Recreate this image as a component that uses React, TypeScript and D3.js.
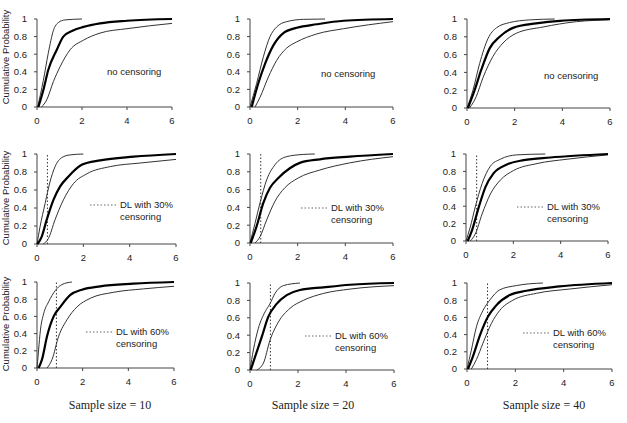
import React from 'react';
import * as d3 from 'd3';

type Pt = [number, number];

// x ticks and y ticks shared by every panel
const xTicks = [0, 2, 4, 6];
const yTicks = [0, 0.2, 0.4, 0.6, 0.8, 1];
const yTickLabels = ['0', '0.2', '0.4', '0.6', '0.8', '1'];

const sampleSizes = ['Sample size = 10', 'Sample size = 20', 'Sample size = 40'];
const censorLabels = ['no censoring', 'DL with 30%', 'DL with 60%'];
const detectionLimits = [null, 0.45, 0.85];

// n = 10
const n10None: Pt[][] = [
  [[0.03, 0], [0.28, 0.3], [0.5, 0.61], [0.73, 0.87], [0.95, 0.96], [1.25, 0.99], [2.0, 1.0]],
  [[0.06, 0], [0.28, 0.19], [0.5, 0.42], [0.88, 0.65], [1.17, 0.8], [1.6, 0.87], [2.07, 0.91], [2.8, 0.95], [4.0, 0.98], [6, 1.0]],
  [[0.2, 0], [0.43, 0.08], [0.73, 0.29], [1.03, 0.46], [1.47, 0.65], [2.07, 0.76], [2.8, 0.84], [4.0, 0.89], [6, 0.95]],
];
const n10Dl30: Pt[][] = [
  [[0, 0], [0.13, 0.19], [0.35, 0.45], [0.56, 0.69], [0.78, 0.86], [1.07, 0.96], [1.43, 0.99], [2.0, 1.0]],
  [[0.02, 0], [0.2, 0.08], [0.42, 0.27], [0.71, 0.49], [1.0, 0.64], [1.36, 0.75], [1.93, 0.88], [2.73, 0.93], [4.17, 0.97], [6, 1.0]],
  [[0.27, 0], [0.49, 0.06], [0.78, 0.27], [1.14, 0.49], [1.57, 0.67], [2.15, 0.78], [3.16, 0.86], [4.46, 0.9], [6, 0.94]],
];
const n10Dl60: Pt[][] = [
  [[0, 0], [0.07, 0.21], [0.15, 0.44], [0.29, 0.63], [0.51, 0.77], [0.8, 0.9], [1.09, 0.97], [1.53, 1.0]],
  [[0.07, 0], [0.22, 0.1], [0.44, 0.37], [0.73, 0.6], [1.02, 0.71], [1.46, 0.85], [1.97, 0.91], [2.77, 0.95], [4.22, 0.98], [6, 1.0]],
  [[0.44, 0], [0.66, 0.1], [0.95, 0.37], [1.31, 0.56], [1.75, 0.71], [2.33, 0.81], [3.35, 0.88], [4.66, 0.92], [6, 0.95]],
];

// n = 20
const n20None: Pt[][] = [
  [[0, 0], [0.28, 0.27], [0.56, 0.57], [0.84, 0.8], [1.12, 0.91], [1.54, 0.97], [2.24, 0.996], [3.15, 1.0]],
  [[0.07, 0], [0.35, 0.27], [0.63, 0.49], [0.98, 0.7], [1.4, 0.84], [1.96, 0.9], [2.8, 0.94], [3.93, 0.98], [6, 1.0]],
  [[0.21, 0], [0.42, 0.11], [0.77, 0.34], [1.12, 0.53], [1.54, 0.67], [1.96, 0.74], [2.8, 0.83], [3.93, 0.89], [6, 0.97]],
];
const n20Dl30: Pt[][] = [
  [[0, 0], [0.21, 0.22], [0.42, 0.45], [0.7, 0.71], [1.05, 0.88], [1.53, 0.97], [2.23, 0.995], [2.72, 1.0]],
  [[0.03, 0], [0.28, 0.19], [0.56, 0.45], [0.84, 0.62], [1.19, 0.73], [1.67, 0.84], [2.09, 0.9], [2.93, 0.94], [4.18, 0.97], [6, 1.0]],
  [[0.21, 0], [0.42, 0.07], [0.7, 0.26], [1.05, 0.47], [1.46, 0.62], [2.02, 0.73], [2.93, 0.82], [4.18, 0.9], [6, 0.97]],
];
const n20Dl60: Pt[][] = [
  [[0, 0], [0.14, 0.23], [0.35, 0.48], [0.63, 0.67], [0.83, 0.76], [1.04, 0.88], [1.39, 0.97], [2.08, 1.0]],
  [[0.03, 0], [0.21, 0.15], [0.49, 0.38], [0.76, 0.61], [1.11, 0.76], [1.53, 0.86], [2.08, 0.92], [3.06, 0.95], [4.17, 0.98], [6, 1.0]],
  [[0.28, 0], [0.56, 0.08], [0.83, 0.34], [1.18, 0.55], [1.67, 0.71], [2.22, 0.8], [3.06, 0.88], [4.17, 0.93], [6, 0.97]],
];

// n = 40
const n40None: Pt[][] = [
  [[0, 0], [0.25, 0.2], [0.53, 0.5], [0.88, 0.78], [1.23, 0.9], [1.79, 0.96], [2.63, 0.99], [3.68, 1.0]],
  [[0.04, 0], [0.32, 0.2], [0.6, 0.43], [0.95, 0.67], [1.37, 0.8], [1.93, 0.9], [2.9, 0.95], [3.9, 0.98], [6, 1.0]],
  [[0.11, 0], [0.39, 0.13], [0.67, 0.34], [1.09, 0.58], [1.51, 0.73], [2.07, 0.84], [3.19, 0.91], [4.59, 0.97], [6, 0.99]],
];
const n40Dl30: Pt[][] = [
  [[0, 0], [0.18, 0.16], [0.39, 0.39], [0.68, 0.66], [1.03, 0.86], [1.45, 0.94], [2.15, 0.99], [3.35, 1.0]],
  [[0.07, 0], [0.25, 0.12], [0.54, 0.39], [0.82, 0.62], [1.17, 0.78], [1.73, 0.88], [2.44, 0.93], [3.56, 0.96], [6, 1.0]],
  [[0.18, 0], [0.39, 0.08], [0.68, 0.31], [1.03, 0.54], [1.45, 0.7], [2.01, 0.81], [3.0, 0.89], [4.27, 0.94], [6, 0.99]],
];
const n40Dl60: Pt[][] = [
  [[0, 0], [0.18, 0.22], [0.39, 0.49], [0.66, 0.68], [0.94, 0.8], [1.35, 0.92], [2.04, 0.97], [3.14, 1.0]],
  [[0.04, 0], [0.25, 0.15], [0.52, 0.38], [0.87, 0.61], [1.21, 0.74], [1.77, 0.86], [2.46, 0.91], [3.83, 0.96], [6, 1.0]],
  [[0.18, 0], [0.39, 0.11], [0.66, 0.3], [1.01, 0.53], [1.35, 0.68], [1.9, 0.8], [2.87, 0.88], [4.25, 0.93], [6, 0.98]],
];

// rows = censoring level, columns = sample size
const panelData: Pt[][][][] = [
  [n10None, n20None, n40None],
  [n10Dl30, n20Dl30, n40Dl30],
  [n10Dl60, n20Dl60, n40Dl60],
];

// plot frames [left, right, top, bottom] per row/col
const frames = [
  [[37, 172, 19, 107], [250, 393, 19, 107], [467, 610, 19, 108]],
  [[37, 176, 154, 244], [250, 393, 154, 243], [466, 608, 154, 241]],
  [[37, 174, 282, 368], [250, 394, 283, 370], [467, 612, 283, 369]],
];

// legend anchor (start of dotted sample / text) per row/col
const legendPos = [
  [[107, 75], [321, 77], [544, 79]],
  [[90, 208], [301, 211], [517, 210]],
  [[86, 335], [305, 339], [523, 336]],
];

const font = 'Liberation Sans, Arial, sans-serif';
const textColor = '#222';

const Panel: React.FC<{ row: number; col: number }> = ({ row, col }) => {
  const [l, r, t, b] = frames[row][col];
  const x = d3.scaleLinear().domain([0, 6]).range([l, r]);
  const y = d3.scaleLinear().domain([0, 1]).range([b, t]);
  const line = d3
    .line<Pt>()
    .x(d => x(d[0]))
    .y(d => y(d[1]))
    .curve(d3.curveMonotoneX);
  const curves = panelData[row][col];
  const dl = detectionLimits[row];
  const [lx, ly] = legendPos[row][col];

  return (
    <g>
      {/* axes */}
      <line x1={l} x2={r} y1={b} y2={b} stroke="#444" strokeWidth={1} />
      <line x1={l} x2={l} y1={t} y2={b} stroke="#444" strokeWidth={1} />
      {xTicks.map(v => (
        <g key={'x' + v}>
          <line x1={x(v)} x2={x(v)} y1={b} y2={b + 3} stroke="#444" />
          <text x={x(v)} y={b + 17} textAnchor="middle" fontSize={9.5} fontFamily={font} fill={textColor}>
            {v}
          </text>
        </g>
      ))}
      {yTicks.map((v, i) => (
        <g key={'y' + v}>
          <line x1={l - 3} x2={l} y1={y(v)} y2={y(v)} stroke="#444" />
          <text x={l - 10} y={y(v)} dy="0.35em" textAnchor="end" fontSize={9.5} fontFamily={font} fill={textColor}>
            {yTickLabels[i]}
          </text>
        </g>
      ))}

      {/* detection limit */}
      {dl !== null && (
        <line
          x1={x(dl)}
          x2={x(dl)}
          y1={b}
          y2={t}
          stroke="#333"
          strokeWidth={1}
          strokeDasharray="1.5 2"
        />
      )}

      {/* CDF bounds and median curve */}
      <path d={line(curves[0]) || ''} fill="none" stroke="#333" strokeWidth={1} />
      <path d={line(curves[2]) || ''} fill="none" stroke="#333" strokeWidth={1} />
      <path d={line(curves[1]) || ''} fill="none" stroke="#000" strokeWidth={2.2} />

      {/* legend */}
      {dl === null ? (
        <text x={lx} y={ly} fontSize={9.5} fontFamily={font} fill={textColor}>
          {censorLabels[row]}
        </text>
      ) : (
        <g>
          <line x1={lx} x2={lx + 27} y1={ly - 3} y2={ly - 3} stroke="#666" strokeDasharray="1.5 2" />
          <text x={lx + 30} y={ly} fontSize={9.5} fontFamily={font} fill={textColor}>
            {censorLabels[row]}
          </text>
          <text x={lx + 30} y={ly + 12} fontSize={9.5} fontFamily={font} fill={textColor}>
            censoring
          </text>
        </g>
      )}
    </g>
  );
};

const yTitleCenters = [57, 198, 324];
const sampleCenters = [110, 313, 544];

const App: React.FC = () => (
  <svg
    width={627}
    height={423}
    style={{ position: 'absolute', left: 0, top: 0, background: '#fff' }}
  >
    <rect width={627} height={423} fill="#fff" />
    {[0, 1, 2].map(row =>
      [0, 1, 2].map(col => <Panel key={row + '-' + col} row={row} col={col} />)
    )}
    {yTitleCenters.map((cy, i) => (
      <text
        key={'yt' + i}
        transform={`translate(9,${cy}) rotate(-90)`}
        textAnchor="middle"
        fontSize={9.5}
        fontFamily={font}
        fill={textColor}
      >
        Cumulative Probability
      </text>
    ))}
    {sampleSizes.map((s, i) => (
      <text
        key={s}
        x={sampleCenters[i]}
        y={409}
        textAnchor="middle"
        fontSize={12}
        fontFamily="Liberation Serif, Times New Roman, serif"
        fill={textColor}
      >
        {s}
      </text>
    ))}
  </svg>
);

export default App;
